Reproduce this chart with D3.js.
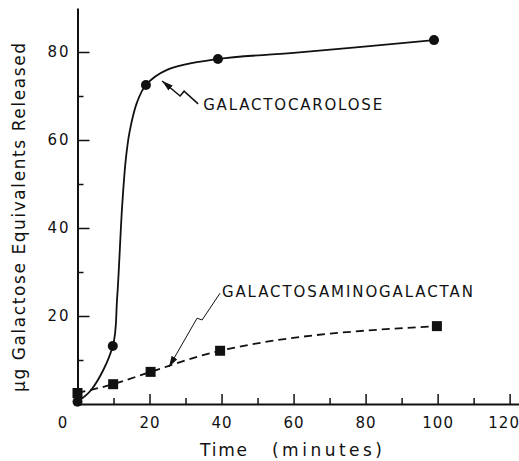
<!DOCTYPE html>
<html>
<head>
<meta charset="utf-8">
<script src="https://cdn.jsdelivr.net/npm/d3@7"></script>
<style>
  html, body { margin: 0; padding: 0; background: #fff; }
  svg { display: block; }
  text { font-family: "DejaVu Sans", sans-serif; fill: #111; }
</style>
</head>
<body>
<svg id="chart" width="519" height="461"></svg>
<script>
// Galactocarolose (circles) and galactosaminogalactan (squares)
const galTimes = [0, 9.8, 19, 39, 99];
const galValues = [0.5, 13.2, 72.5, 78.4, 82.7];
const gsgTimes = [0, 9.9, 20.3, 39.6, 99.8];
const gsgValues = [2.5, 4.5, 7.3, 12.1, 17.7];

// hand-drawn curve through the galactocarolose points
const fitTimes = [0, 4, 9.8, 11, 12.4, 13.4, 14.5, 16.5, 19, 25, 39, 60, 99];
const fitValues = [0.5, 3.4, 13.2, 24, 45, 55.5, 62, 68.5, 72.5, 76, 78.4, 79.8, 82.7];

const xMajor = [0, 20, 40, 60, 80, 100, 120];
const xMinor = [10, 30, 50, 70, 90, 110];
const yMajor = [20, 40, 60, 80];
const yMinor = [10, 30, 50, 70];

const svg = d3.select('#chart');

const x = d3.scaleLinear().domain([0, 122.6]).range([77.5, 519]);
const y = d3.scaleLinear().domain([0, 90]).range([404, 8]);

// arrowhead
svg.append('defs').append('marker')
    .attr('id', 'head')
    .attr('viewBox', '0 0 10 6')
    .attr('refX', 10).attr('refY', 3)
    .attr('markerUnits', 'userSpaceOnUse')
    .attr('markerWidth', 11).attr('markerHeight', 7)
    .attr('orient', 'auto')
  .append('path')
    .attr('d', 'M0,0 L10,3 L0,6 Z')
    .attr('fill', '#111');

// x axis: major ticks with labels, minor ticks without
const xAxis = svg.append('g')
    .attr('transform', `translate(0,${y(0)})`)
    .call(d3.axisBottom(x).tickValues(xMajor).tickSizeInner(-10).tickSizeOuter(0).tickPadding(13));
svg.append('g')
    .attr('transform', `translate(0,${y(0)})`)
    .call(d3.axisBottom(x).tickValues(xMinor).tickSizeInner(-6).tickSizeOuter(0).tickFormat(''))
    .select('.domain').remove();

const yAxis = svg.append('g')
    .attr('transform', `translate(${x(0)},0)`)
    .call(d3.axisLeft(y).tickValues(yMajor).tickSizeInner(-12).tickSizeOuter(0).tickPadding(7));
svg.append('g')
    .attr('transform', `translate(${x(0)},0)`)
    .call(d3.axisLeft(y).tickValues(yMinor).tickSizeInner(-6).tickSizeOuter(0).tickFormat(''))
    .select('.domain').remove();

svg.selectAll('.domain').attr('stroke', '#111').attr('stroke-width', 2);
svg.selectAll('.tick line').attr('stroke', '#111').attr('stroke-width', 1.5);
svg.selectAll('.tick text')
    .style('font-family', '"DejaVu Sans", sans-serif')
    .attr('font-size', 15)
    .attr('fill', '#111');
yAxis.selectAll('.tick text').attr('letter-spacing', 2);
xAxis.selectAll('.tick text').attr('letter-spacing', 1);
// the origin label sits left of the corner, the last one is pulled in
xAxis.selectAll('.tick').filter(d => d === 0).select('text').attr('dx', -15);
xAxis.selectAll('.tick').filter(d => d === 120).select('text').attr('dx', -6);

// curves
const fitLine = d3.line()
    .x(d => x(d[0]))
    .y(d => y(d[1]))
    .curve(d3.curveCatmullRom.alpha(0.5));

const dashLine = d3.line()
    .x(d => x(d[0]))
    .y(d => y(d[1]))
    .curve(d3.curveMonotoneX);

svg.append('path')
    .datum(fitTimes.map((t, i) => [t, fitValues[i]]))
    .attr('d', fitLine)
    .attr('fill', 'none')
    .attr('stroke', '#111')
    .attr('stroke-width', 1.8);

svg.append('path')
    .datum(gsgTimes.map((t, i) => [t, gsgValues[i]]))
    .attr('d', dashLine)
    .attr('fill', 'none')
    .attr('stroke', '#111')
    .attr('stroke-width', 1.8)
    .attr('stroke-dasharray', '8,5');

// markers
svg.selectAll('circle.gal')
    .data(galTimes)
    .enter().append('circle')
    .attr('class', 'gal')
    .attr('cx', d => x(d))
    .attr('cy', (d, i) => y(galValues[i]))
    .attr('r', 5)
    .attr('fill', '#111');

svg.selectAll('rect.gsg')
    .data(gsgTimes)
    .enter().append('rect')
    .attr('class', 'gsg')
    .attr('x', d => x(d) - 5)
    .attr('y', (d, i) => y(gsgValues[i]) - 5)
    .attr('width', 10)
    .attr('height', 10)
    .attr('fill', '#111');

// labels with broken-line arrows (points in data units)
const labels = [
    { text: 'GALACTOCAROLOSE', at: [34.9, 66.8], len: 179, width: 1.5,
      arrow: [[33.5, 68.2], [29.6, 71.1], [28.5, 70.0], [23.5, 73.4]] },
    { text: 'GALACTOSAMINOGALACTAN', at: [40.1, 24.3], len: 251, width: 1,
      arrow: [[39.6, 25.2], [34.6, 19.1], [33.2, 19.5], [25.4, 8.4]] }
];

labels.forEach(l => {
    svg.append('text')
        .attr('x', x(l.at[0]))
        .attr('y', y(l.at[1]))
        .attr('font-size', 15)
        .attr('textLength', l.len)
        .attr('lengthAdjust', 'spacing')
        .text(l.text);

    svg.append('path')
        .attr('d', d3.line().x(d => x(d[0])).y(d => y(d[1]))(l.arrow))
        .attr('fill', 'none')
        .attr('stroke', '#111')
        .attr('stroke-width', l.width)
        .attr('marker-end', 'url(#head)');
});

// axis titles
svg.append('text')
    .attr('transform', 'translate(25,217.5) rotate(-90)')
    .attr('text-anchor', 'middle')
    .attr('font-size', 17)
    .attr('textLength', 349)
    .attr('lengthAdjust', 'spacing')
    .text('\u00b5g Galactose Equivalents Released');

svg.append('text')
    .attr('x', 200).attr('y', 456)
    .attr('font-size', 17)
    .attr('textLength', 47)
    .attr('lengthAdjust', 'spacing')
    .text('Time');

svg.append('text')
    .attr('x', 272).attr('y', 456)
    .attr('font-size', 17)
    .attr('textLength', 110)
    .attr('lengthAdjust', 'spacing')
    .text('(minutes)');
</script>
</body>
</html>
